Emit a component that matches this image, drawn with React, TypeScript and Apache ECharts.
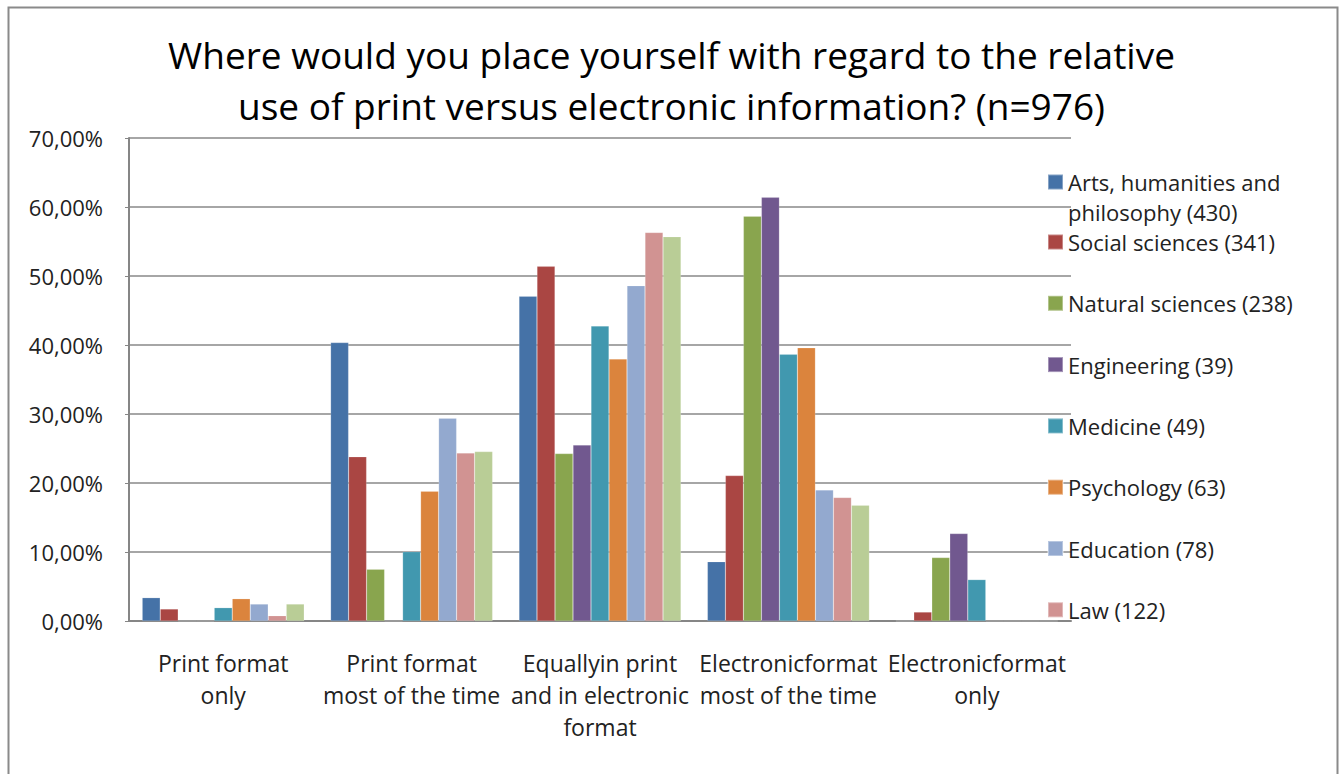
import React, { useEffect, useRef } from "react";
import * as echarts from "echarts";

const categories = [
  "Print format\nonly",
  "Print format\nmost of the time",
  "Equallyin print\nand in electronic\nformat",
  "Electronicformat\nmost of the time",
  "Electronicformat\nonly",
];

const seriesNames = [
  "Arts, humanities and philosophy (430)",
  "Social sciences (341)",
  "Natural sciences (238)",
  "Engineering (39)",
  "Medicine (49)",
  "Psychology (63)",
  "Education (78)",
  "Law (122)",
  "Total (976)",
];

const arts = [3.38, 40.35, 47.06, 8.6, 0];
const social = [1.74, 23.8, 51.4, 21.07, 1.3];
const natural = [0, 7.5, 24.26, 58.65, 9.19];
const engineering = [0, 0, 25.5, 61.4, 12.67];
const medicine = [1.93, 10.05, 42.75, 38.65, 6.0];
const psychology = [3.23, 18.8, 37.97, 39.6, 0];
const education = [2.46, 29.4, 48.6, 19.0, 0];
const law = [0.77, 24.35, 56.3, 17.9, 0];
const total = [2.46, 24.55, 55.7, 16.77, 0];

const seriesValues = [arts, social, natural, engineering, medicine, psychology, education, law, total];

const colors = ["#4572A7", "#AA4643", "#89A54E", "#71588F", "#4198AF", "#DB843D", "#93A9CF", "#D19392", "#B9CD96"];

const yTicks = [0, 10, 20, 30, 40, 50, 60, 70];

const FONT = "Open Sans";

export default function App() {
  const ref = useRef<HTMLDivElement>(null);
  useEffect(() => {
    document.body.style.margin = "0";
    const chart = echarts.init(ref.current!, null, { renderer: "svg" });
    chart.setOption({
      animation: false,
      backgroundColor: "#ffffff",
      textStyle: { fontFamily: FONT },
      title: {
        text: "Where would you place yourself with regard to the relative\nuse of print versus electronic information? (n=976)",
        left: "center",
        top: 24,
        textStyle: { fontFamily: FONT, fontSize: 37, fontWeight: "normal", color: "#000", lineHeight: 51 },
      },
      graphic: [
        {
          type: "rect",
          shape: { x: 8.5, y: 7.5, width: 1329, height: 800 },
          style: { fill: "none", stroke: "#8a8a8a", lineWidth: 2 },
          silent: true,
        },
      ],
      legend: [
        {
          data: [seriesNames[0]],
          orient: "vertical",
          left: 1042,
          top: 132,
          itemWidth: 15,
          itemHeight: 15,
          icon: "rect",
          formatter: () => " \nArts, humanities and\nphilosophy (430)",
          textStyle: { fontFamily: FONT, fontSize: 22, color: "#222", lineHeight: 30 },
        },
        {
          data: seriesNames.slice(1, 8),
          orient: "vertical",
          left: 1042,
          top: 225,
          itemGap: 37.3,
          itemWidth: 15,
          itemHeight: 15,
          icon: "rect",
          textStyle: { fontFamily: FONT, fontSize: 22, color: "#222", lineHeight: 24 },
        },
      ],
      grid: { left: 129, right: 272, top: 138, bottom: 153, containLabel: false },
      xAxis: {
        type: "category",
        data: categories,
        axisLine: { lineStyle: { color: "#868686", width: 2 } },
        axisTick: { show: false },
        axisLabel: { fontFamily: FONT, fontSize: 23, color: "#222", lineHeight: 32, margin: 26, interval: 0 },
      },
      yAxis: {
        type: "value",
        min: 0,
        max: 70,
        interval: 10,
        axisLine: { show: true, lineStyle: { color: "#868686", width: 2 } },
        axisTick: { show: true, length: 4, lineStyle: { color: "#868686" } },
        splitLine: { lineStyle: { color: "#a6a6a6", width: 2 } },
        axisLabel: {
          fontFamily: FONT,
          fontSize: 22,
          color: "#222",
          margin: 26,
          formatter: (v: number) => (yTicks.includes(v) ? v.toFixed(2).replace(".", ",") + "%" : ""),
        },
      },
      series: seriesNames.map((name, i) => ({
        name,
        type: "bar",
        data: seriesValues[i],
        barGap: "0%",
        barCategoryGap: "14%",
        itemStyle: { color: colors[i], borderColor: "rgba(255,255,255,0.35)", borderWidth: 0.5 },
      })),
    });
    return () => chart.dispose();
  }, []);
  return <div ref={ref} style={{ width: 1343, height: 774 }} />;
}
